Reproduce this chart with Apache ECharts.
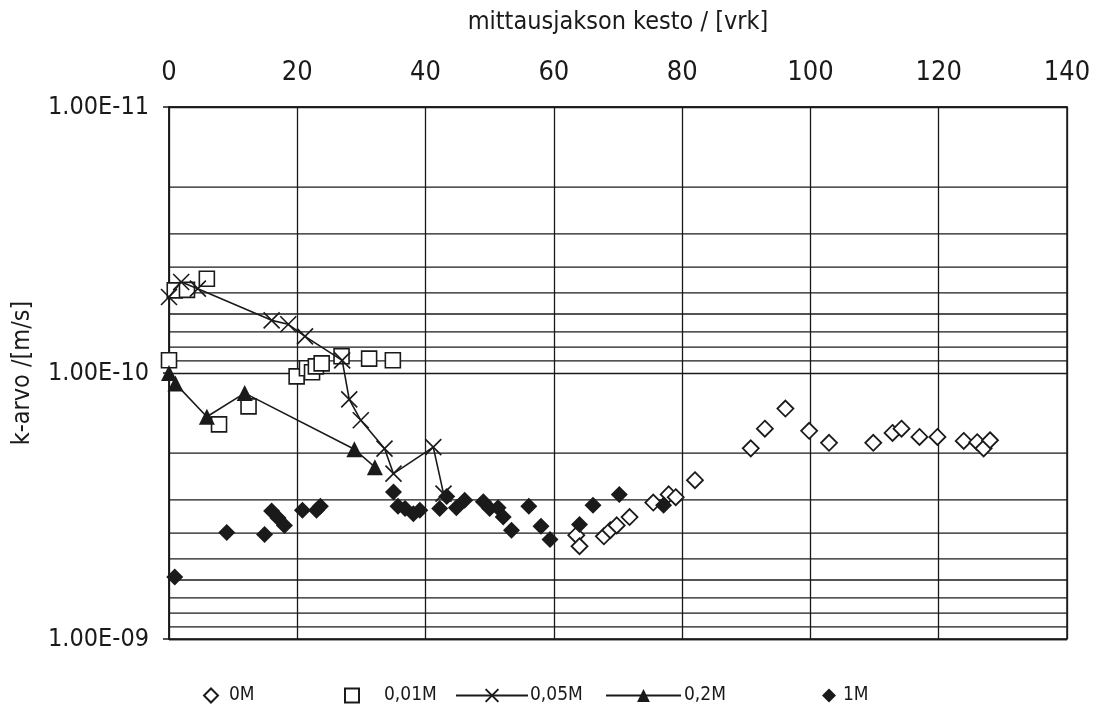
<!DOCTYPE html>
<html>
<head>
<meta charset="utf-8">
<script src="https://cdn.jsdelivr.net/npm/echarts@6/dist/echarts.min.js"></script>
<style>
  html, body { margin: 0; padding: 0; background: #fff; }
  #chart { width: 1094px; height: 717px; }
</style>
</head>
<body>
<div id="chart"></div>
<script>
// Measurement duration (days) and hydraulic conductivity k (m/s) per salinity
const days_0M = [63.5, 64.0, 67.8, 68.8, 69.8, 71.8, 75.5, 77.9, 79.0, 82.0, 90.7, 92.9, 96.1, 99.8, 102.9, 109.8, 112.8, 114.2, 117.0, 119.8, 123.9, 126.0, 127.0, 128.0];
const k_0M = [4.07e-10, 4.48e-10, 4.11e-10, 3.90e-10, 3.74e-10, 3.48e-10, 3.07e-10, 2.86e-10, 2.93e-10, 2.53e-10, 1.92e-10, 1.62e-10, 1.36e-10, 1.65e-10, 1.83e-10, 1.83e-10, 1.68e-10, 1.62e-10, 1.74e-10, 1.74e-10, 1.80e-10, 1.82e-10, 1.92e-10, 1.79e-10];

const days_001M = [0.0, 0.9, 2.8, 5.9, 7.8, 12.4, 19.9, 21.5, 22.3, 22.9, 23.8, 26.9, 31.2, 34.9];
const k_001M = [8.96e-11, 4.89e-11, 4.87e-11, 4.42e-11, 1.56e-10, 1.335e-10, 1.03e-10, 9.6e-11, 9.94e-11, 9.44e-11, 9.2e-11, 8.65e-11, 8.83e-11, 8.96e-11];

const days_005M = [0.0, 1.9, 4.5, 16.0, 18.6, 21.2, 27.0, 28.1, 29.9, 33.6, 35.0, 41.2, 42.8];
const k_005M = [5.18e-11, 4.55e-11, 4.82e-11, 6.34e-11, 6.56e-11, 7.28e-11, 8.96e-11, 1.256e-10, 1.506e-10, 1.924e-10, 2.39e-10, 1.90e-10, 2.84e-10];

const days_02M = [0.0, 1.0, 5.9, 11.8, 28.9, 32.1];
const k_02M = [1.0e-10, 1.096e-10, 1.46e-10, 1.19e-10, 1.935e-10, 2.26e-10];

const days_1M = [0.9, 9.0, 14.9, 16.0, 17.0, 18.0, 20.8, 23.0, 23.6, 35.0, 35.7, 36.8, 38.1, 39.1, 42.2, 43.3, 44.8, 46.1, 49.0, 50.0, 51.3, 52.1, 53.4, 56.1, 58.0, 59.4, 64.0, 66.1, 70.2, 77.1];
const k_1M = [5.85e-10, 3.98e-10, 4.05e-10, 3.30e-10, 3.51e-10, 3.74e-10, 3.28e-10, 3.28e-10, 3.17e-10, 2.80e-10, 3.17e-10, 3.23e-10, 3.38e-10, 3.28e-10, 3.23e-10, 2.91e-10, 3.21e-10, 3.01e-10, 3.05e-10, 3.23e-10, 3.21e-10, 3.48e-10, 3.90e-10, 3.17e-10, 3.77e-10, 4.23e-10, 3.71e-10, 3.14e-10, 2.86e-10, 3.14e-10];

// Log-scale minor grid positions (2..9 x each decade)
const minorGrid = [2e-11, 3e-11, 4e-11, 5e-11, 6e-11, 7e-11, 8e-11, 9e-11,
                   2e-10, 3e-10, 4e-10, 5e-10, 6e-10, 7e-10, 8e-10, 9e-10];

const seriesNames = ['0M', '0,01M', '0,05M', '0,2M', '1M'];

const X_MIN = 0, X_MAX = 140, X_STEP = 20;
const Y_MIN = 1e-11, Y_MAX = 1e-9;

const FONT = '"DejaVu Sans Condensed", "Liberation Sans Narrow", "Liberation Sans", Arial, sans-serif';
const INK = '#1a1a1a';

function pairs(xs, ys) { return xs.map((x, i) => [x, ys[i]]); }

function sci(v) {
  const e = Math.round(Math.log10(v));
  const m = v / Math.pow(10, e);
  const sign = e < 0 ? '-' : '+';
  return m.toFixed(2) + 'E' + sign + String(Math.abs(e)).padStart(2, '0');
}

const crossPath = 'path://M0,0L10,10M10,0L0,10';

// horizontal minor grid lines spanning the full x range
const minorGridSeries = minorGrid.map(v => ({
  type: 'line', silent: true, symbol: 'none', animation: false,
  data: [[X_MIN, v], [X_MAX, v]],
  lineStyle: { color: INK, width: 1.3 },
  tooltip: { show: false }, z: 1
}));

const chart = echarts.init(document.getElementById('chart'), null, { renderer: 'canvas' });

const legendText = { fontSize: 19, fontFamily: FONT, color: INK };

chart.setOption({
  animation: false,
  backgroundColor: '#fff',
  grid: {
    left: 169, right: 27, top: 107, bottom: 78,
    outerBoundsMode: 'none', containLabel: false,
    show: true, borderColor: INK, borderWidth: 1.5, backgroundColor: 'transparent'
  },
  legend: [
    { data: [seriesNames[0]], left: 203, top: 686, itemWidth: 14, itemHeight: 14, itemGap: 0, padding: 0,
      textStyle: Object.assign({ padding: [0, 0, 0, 6] }, legendText) },
    { data: [seriesNames[1]], left: 344, top: 686, itemWidth: 14, itemHeight: 14, itemGap: 0, padding: 0,
      textStyle: Object.assign({ padding: [0, 0, 0, 20] }, legendText) },
    { data: [seriesNames[2]], left: 455, top: 686, itemWidth: 72, itemHeight: 16, itemGap: 0, padding: 0,
      textStyle: Object.assign({ padding: [0, 0, 0, -3] }, legendText) },
    { data: [seriesNames[3]], left: 605, top: 686, itemWidth: 75, itemHeight: 16, itemGap: 0, padding: 0,
      textStyle: Object.assign({ padding: [0, 0, 0, -2] }, legendText) },
    { data: [seriesNames[4]], left: 822, top: 686, itemWidth: 14, itemHeight: 14, itemGap: 0, padding: 0,
      textStyle: Object.assign({ padding: [0, 0, 0, 2] }, legendText) }
  ],
  xAxis: {
    type: 'value', position: 'top', min: X_MIN, max: X_MAX, interval: X_STEP,
    name: 'mittausjakson kesto / [vrk]', nameLocation: 'middle', nameGap: 72, nameMoveOverlap: false,
    nameTextStyle: { fontSize: 25, fontFamily: FONT, color: INK },
    axisLine: { show: true, lineStyle: { color: INK, width: 1.5 } },
    axisTick: { show: false },
    axisLabel: { fontSize: 27, fontFamily: FONT, color: INK, margin: 21 },
    splitLine: { show: true, lineStyle: { color: INK, width: 1.3 } }
  },
  yAxis: {
    type: 'log', logBase: 10, min: Y_MIN, max: Y_MAX, inverse: true,
    name: 'k-arvo /[m/s]', nameLocation: 'middle', nameGap: 134, nameRotate: 90, nameMoveOverlap: false,
    nameTextStyle: { fontSize: 25, fontFamily: FONT, color: INK },
    axisLine: { show: true, lineStyle: { color: INK, width: 1.5 } },
    axisTick: { show: true, inside: false, length: 6, lineStyle: { color: INK, width: 1.5 } },
    axisLabel: { fontSize: 25, fontFamily: FONT, color: INK, margin: 20, formatter: sci },
    splitLine: { show: true, lineStyle: { color: INK, width: 1.3 } },
    minorTick: { show: false }, minorSplitLine: { show: false }
  },
  series: minorGridSeries.concat([
    {
      name: seriesNames[0], type: 'scatter', data: pairs(days_0M, k_0M),
      symbol: 'diamond', symbolSize: 16,
      itemStyle: { color: '#fff', borderColor: INK, borderWidth: 1.8, opacity: 1 },
      z: 2
    },
    {
      name: seriesNames[1], type: 'scatter', data: pairs(days_001M, k_001M),
      symbol: 'rect', symbolSize: 15,
      itemStyle: { color: '#fff', borderColor: INK, borderWidth: 1.6, opacity: 1 },
      z: 3
    },
    {
      name: seriesNames[2], type: 'line', data: pairs(days_005M, k_005M),
      symbol: crossPath, symbolSize: 16, showSymbol: true,
      lineStyle: { color: INK, width: 1.6 },
      itemStyle: { color: 'rgba(0,0,0,0)', borderColor: INK, borderWidth: 1.6, opacity: 1 },
      z: 4
    },
    {
      name: seriesNames[3], type: 'line', data: pairs(days_02M, k_02M),
      symbol: 'triangle', symbolSize: 16, showSymbol: true,
      lineStyle: { color: INK, width: 1.6 },
      itemStyle: { color: INK, borderColor: INK, borderWidth: 0, opacity: 1 },
      z: 5
    },
    {
      name: seriesNames[4], type: 'scatter', data: pairs(days_1M, k_1M),
      symbol: 'diamond', symbolSize: 17,
      itemStyle: { color: INK, borderColor: INK, borderWidth: 0, opacity: 1 },
      z: 6
    }
  ])
});
</script>
</body>
</html>
